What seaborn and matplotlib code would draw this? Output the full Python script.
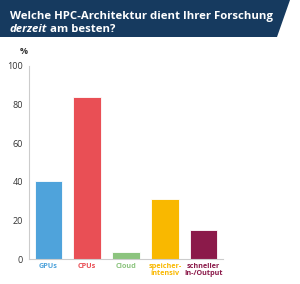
import matplotlib
matplotlib.use("Agg")
import matplotlib.pyplot as plt
import seaborn as sns
import pandas as pd
from matplotlib.patches import Polygon
from matplotlib.text import Annotation

# Daten
kategorien = ["GPUs", "CPUs", "Cloud", "speicher-\nintensiv", "schneller\nIn-/Output"]
werte = [40.5, 84, 3.7, 31, 15]
farben = ["#4fa3db", "#e94f55", "#8cc47e", "#f9b800", "#8b1a4a"]
y_ticks = [0, 20, 40, 60, 80, 100]

df = pd.DataFrame({"kategorie": kategorien, "wert": werte})

sns.set_theme(style="white")
plt.rcParams["font.family"] = ["Open Sans", "DejaVu Sans"]

fig = plt.figure(figsize=(3.0, 2.84), dpi=100)
ax = fig.add_axes([0.097, 0.088, 0.646, 0.680])

sns.barplot(data=df, x="kategorie", y="wert", hue="kategorie", palette=farben,
            legend=False, width=0.72, saturation=1, ax=ax, edgecolor="white", linewidth=0.6)

ax.set_ylim(0, 100)
ax.set_xlim(-0.5, len(kategorien) - 0.5)
ax.set_yticks(y_ticks)
ax.set_yticklabels([str(t) for t in y_ticks], fontsize=6.5, color="#333333")
ax.set_xlabel("")
ax.set_ylabel("")
ax.tick_params(axis="y", length=2.5, width=0.6, color="#cccccc", pad=2)
ax.tick_params(axis="x", length=0, pad=3)
ax.set_xticks(range(len(kategorien)))
ax.set_xticklabels(kategorien, fontsize=5.2, fontweight="bold", linespacing=0.95)
for lbl, c in zip(ax.get_xticklabels(), farben):
    lbl.set_color(c)

for side in ["top", "right"]:
    ax.spines[side].set_visible(False)
for side in ["left", "bottom"]:
    ax.spines[side].set_color("#cccccc")
    ax.spines[side].set_linewidth(0.8)

# Titelbanner
W, H = 300, 284
banner = Polygon([(0, 1), (290 / W, 1), (277 / W, 1 - 37 / H), (0, 1 - 37 / H)],
                 closed=True, transform=fig.transFigure, facecolor="#163a5f",
                 edgecolor="none")
fig.patches.append(banner)

fig.text(10 / W, 1 - 16 / H, "Welche HPC-Architektur dient Ihrer Forschung",
         color="white", fontsize=8.2, fontweight="bold", va="center", ha="left")
t2 = fig.text(10 / W, 1 - 29 / H, "derzeit", color="white", fontsize=8.2,
              fontweight="bold", style="italic", va="center", ha="left")
# zweiter Teil direkt hinter dem kursiven Wort
fig.add_artist(Annotation(" am besten?", xy=(1, 0.5), xycoords=t2, va="center",
                          ha="left", color="white", fontsize=8.2, fontweight="bold"))

fig.text(24 / W, 1 - 52 / H, "%", fontsize=6.5, fontweight="bold", color="#333333",
         va="center", ha="center")

fig.savefig("out.png", dpi=100)
